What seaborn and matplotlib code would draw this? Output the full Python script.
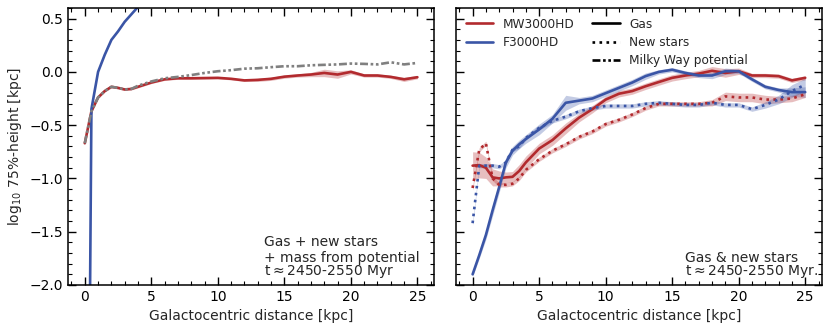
import numpy as np
import pandas as pd
import matplotlib
matplotlib.use("Agg")
import matplotlib.pyplot as plt
from matplotlib.lines import Line2D
from matplotlib.ticker import MultipleLocator
import seaborn as sns

# radial bins [kpc]
radius = [0, 0.5, 1, 1.5, 2, 2.5, 3, 3.5, 4,
          5, 6, 7, 8, 9, 10, 11, 12, 13, 14, 15,
          16, 17, 18, 19, 20, 21, 22, 23, 24, 25]

# left panel: gas + new stars + mass from potential
left_mw = [-0.67, -0.37, -0.24, -0.18, -0.14, -0.15, -0.165, -0.16, -0.14,
           -0.10, -0.07, -0.06, -0.06, -0.058, -0.056, -0.065, -0.08, -0.075, -0.065, -0.045,
           -0.034, -0.025, -0.01, -0.025, 0.0, -0.034, -0.034, -0.047, -0.07, -0.05]
left_mw_err = [0.01, 0.01, 0.01, 0.01, 0.01, 0.01, 0.01, 0.01, 0.01,
               0.01, 0.01, 0.01, 0.01, 0.01, 0.01, 0.01, 0.01, 0.015, 0.015, 0.015,
               0.015, 0.02, 0.035, 0.035, 0.02, 0.015, 0.015, 0.015, 0.02, 0.015]
left_potential = [-0.67, -0.37, -0.24, -0.18, -0.14, -0.15, -0.165, -0.16, -0.13,
                  -0.09, -0.06, -0.047, -0.03, -0.01, 0.006, 0.016, 0.03, 0.034, 0.044, 0.053,
                  0.053, 0.062, 0.066, 0.07, 0.078, 0.075, 0.07, 0.09, 0.07, 0.084]
left_f_radius = [0, 0.5, 1, 1.5, 2, 2.5, 3, 3.5, 4, 5]
left_f = [-8.6, -0.35, 0.0, 0.16, 0.30, 0.38, 0.47, 0.54, 0.61, 0.8]

# right panel: gas & new stars
mw_gas = [-0.88, -0.875, -0.90, -0.99, -1.00, -0.99, -0.985, -0.93, -0.85,
          -0.72, -0.64, -0.53, -0.43, -0.35, -0.26, -0.205, -0.18, -0.135, -0.095, -0.056,
          -0.034, -0.016, 0.01, -0.01, 0.006, -0.034, -0.034, -0.04, -0.08, -0.056]
mw_gas_err = [0.13, 0.12, 0.10, 0.08, 0.07, 0.05, 0.05, 0.06, 0.06,
              0.05, 0.05, 0.05, 0.04, 0.035, 0.03, 0.03, 0.03, 0.03, 0.03, 0.03,
              0.03, 0.03, 0.04, 0.04, 0.03, 0.02, 0.02, 0.02, 0.02, 0.02]
f_gas = [-1.90, -1.72, -1.53, -1.30, -1.08, -0.85, -0.74, -0.68, -0.63,
         -0.54, -0.44, -0.29, -0.27, -0.25, -0.20, -0.15, -0.10, -0.04, 0.0, 0.02,
         -0.01, -0.034, -0.034, 0.006, 0.006, -0.07, -0.14, -0.17, -0.19, -0.19]
f_gas_err = [0.02, 0.03, 0.04, 0.05, 0.05, 0.05, 0.04, 0.04, 0.04,
             0.05, 0.04, 0.07, 0.03, 0.03, 0.03, 0.03, 0.03, 0.03, 0.02, 0.02,
             0.02, 0.02, 0.03, 0.03, 0.02, 0.02, 0.02, 0.02, 0.04, 0.05]
mw_stars = [-1.09, -0.73, -0.67, -1.00, -1.06, -1.06, -1.05, -1.00, -0.92,
            -0.82, -0.74, -0.68, -0.61, -0.56, -0.49, -0.45, -0.40, -0.34, -0.30, -0.30,
            -0.30, -0.30, -0.29, -0.23, -0.24, -0.24, -0.26, -0.26, -0.25, -0.21]
mw_stars_err = [0.02, 0.02, 0.02, 0.02, 0.02, 0.02, 0.02, 0.02, 0.02,
                0.02, 0.02, 0.02, 0.02, 0.02, 0.02, 0.02, 0.02, 0.02, 0.02, 0.02,
                0.02, 0.02, 0.03, 0.04, 0.04, 0.04, 0.04, 0.03, 0.03, 0.03]
f_stars = [-1.42, -0.88, -0.88, -0.88, -0.89, -0.85, -0.73, -0.70, -0.62,
           -0.525, -0.46, -0.42, -0.37, -0.34, -0.32, -0.32, -0.32, -0.30, -0.29, -0.30,
           -0.31, -0.31, -0.29, -0.31, -0.31, -0.35, -0.31, -0.26, -0.18, -0.12]
f_stars_err = [0.02, 0.02, 0.02, 0.02, 0.02, 0.02, 0.02, 0.02, 0.02,
               0.02, 0.02, 0.02, 0.02, 0.02, 0.02, 0.02, 0.02, 0.02, 0.02, 0.02,
               0.02, 0.02, 0.02, 0.02, 0.02, 0.02, 0.03, 0.04, 0.06, 0.06]

red = "#b22a2e"
blue = "#3a55a6"
grey = "#808080"
mwp_style = (0, (3, 1, 1, 1, 1, 1))

sns.set_theme(style="ticks")
plt.rcParams.update({
    "font.family": ["DejaVu Sans"],
    "xtick.direction": "in", "ytick.direction": "in",
    "xtick.top": True, "ytick.right": True,
    "xtick.minor.visible": True, "ytick.minor.visible": True,
    "xtick.major.size": 6, "ytick.major.size": 6,
    "xtick.minor.size": 3, "ytick.minor.size": 3,
    "xtick.major.width": 1, "ytick.major.width": 1,
    "xtick.minor.width": 0.8, "ytick.minor.width": 0.8,
    "axes.linewidth": 1.1,
    "xtick.labelsize": 10, "ytick.labelsize": 10,
    "axes.labelsize": 10,
    "axes.edgecolor": "black",
    "xtick.color": "black", "ytick.color": "black",
})

fig, axes = plt.subplots(1, 2, figsize=(8.31, 3.31), dpi=100, sharey=True)
fig.subplots_adjust(left=0.082, right=0.989, top=0.976, bottom=0.139, wspace=0.06)


def band(ax, y, err, color):
    y = np.asarray(y)
    err = np.asarray(err)
    ax.fill_between(radius, y - err, y + err, color=color, alpha=0.3, lw=0)


# ---- left panel
ax = axes[0]
band(ax, left_mw, left_mw_err, red)
sns.lineplot(x=radius, y=left_mw, color=red, lw=1.9, ax=ax)
sns.lineplot(x=left_f_radius, y=left_f, color=blue, lw=1.9, ax=ax)
sns.lineplot(x=radius, y=left_potential, color=grey, lw=1.9, ax=ax,
             linestyle=mwp_style)
ax.text(13.45, -1.60, "Gas + new stars", fontsize=10, va="center", ha="left")
ax.text(13.45, -1.745, "+ mass from potential", fontsize=10,
        va="center", ha="left")
ax.text(13.45, -1.875, "t$\\approx$2450-2550 Myr", fontsize=10,
        va="center", ha="left")
ax.set_ylabel("log$_{10}$ 75%-height [kpc]")

# ---- right panel
ax = axes[1]
band(ax, mw_gas, mw_gas_err, red)
band(ax, f_gas, f_gas_err, blue)
band(ax, mw_stars, mw_stars_err, red)
band(ax, f_stars, f_stars_err, blue)
sns.lineplot(x=radius, y=mw_gas, color=red, lw=1.9, ax=ax)
sns.lineplot(x=radius, y=f_gas, color=blue, lw=1.9, ax=ax)
sns.lineplot(x=radius, y=mw_stars, color=red, lw=1.9, ax=ax, linestyle=":")
sns.lineplot(x=radius, y=f_stars, color=blue, lw=1.9, ax=ax, linestyle=":")
ax.text(16.0, -1.745, "Gas & new stars", fontsize=10, va="center", ha="left")
ax.text(16.0, -1.875, "t$\\approx$2450-2550 Myr.", fontsize=10,
        va="center", ha="left")

sim_handles = [Line2D([], [], color=red, lw=1.9, label="MW3000HD"),
               Line2D([], [], color=blue, lw=1.9, label="F3000HD")]
comp_handles = [Line2D([], [], color="black", lw=1.9, label="Gas"),
                Line2D([], [], color="black", lw=1.9, ls=":", label="New stars"),
                Line2D([], [], color="black", lw=1.9, ls=mwp_style,
                       label="Milky Way potential")]
leg1 = ax.legend(handles=sim_handles, loc="upper left", frameon=False,
                 fontsize=8.7, handlelength=2.3, borderaxespad=0.4,
                 labelspacing=0.45)
ax.add_artist(leg1)
ax.legend(handles=comp_handles, loc="upper left", bbox_to_anchor=(0.345, 1.0),
          frameon=False, fontsize=8.7, handlelength=2.3, borderaxespad=0.4,
          labelspacing=0.45)

for ax in axes:
    ax.set_xlim(-1.25, 26.25)
    ax.set_ylim(-2.0, 0.6)
    ax.xaxis.set_major_locator(MultipleLocator(5))
    ax.xaxis.set_minor_locator(MultipleLocator(1))
    ax.yaxis.set_major_locator(MultipleLocator(0.5))
    ax.yaxis.set_minor_locator(MultipleLocator(0.1))
    ax.set_xlabel("Galactocentric distance [kpc]")
    ax.tick_params(which="both", top=True, right=True)
axes[1].tick_params(labelleft=False)

fig.savefig("out.png", dpi=100)
